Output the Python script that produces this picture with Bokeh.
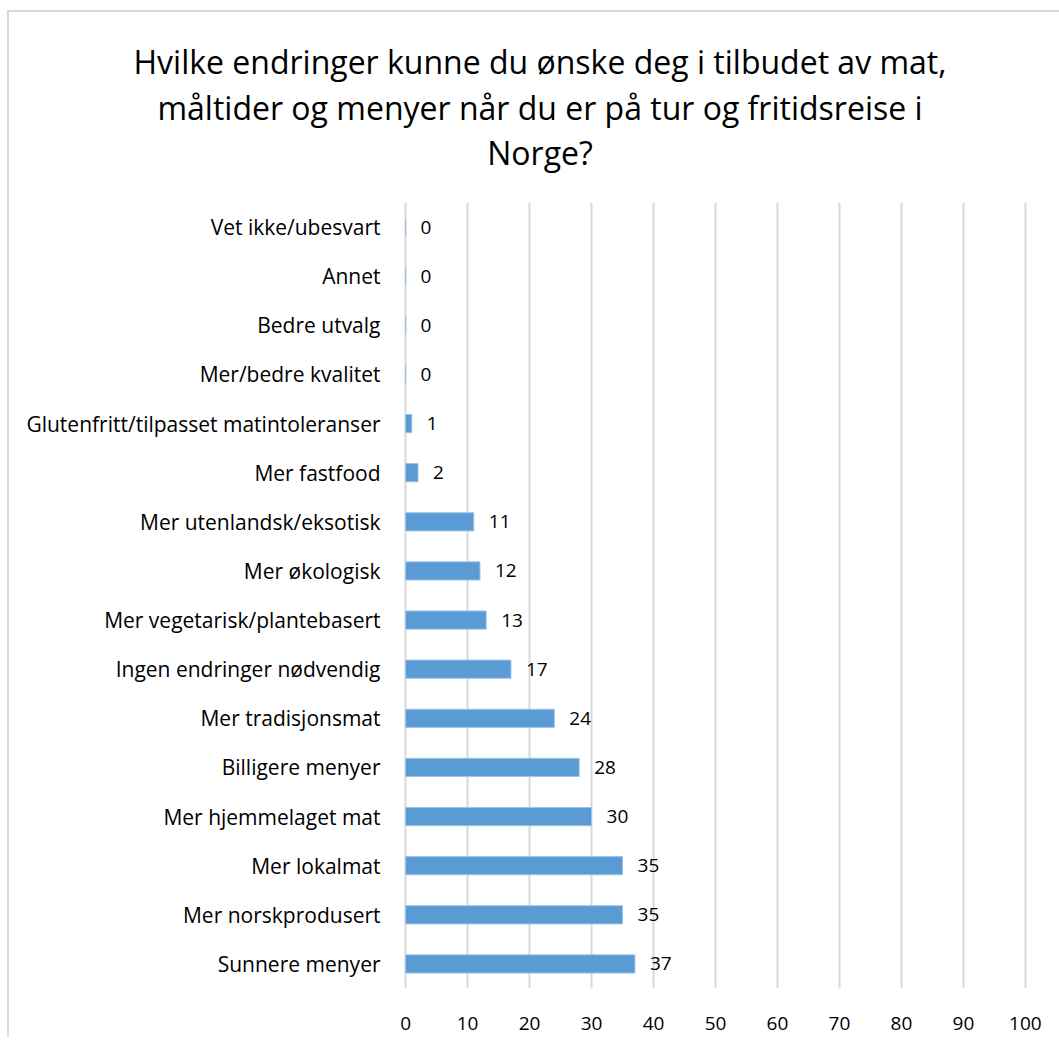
from bokeh.plotting import figure
from bokeh.models import ColumnDataSource, FactorRange, Range1d, FixedTicker, LabelSet, Div
from bokeh.layouts import column
from bokeh.core.properties import value
from bokeh.embed import file_html
from bokeh.resources import INLINE

categories = ["Sunnere menyer", "Mer norskprodusert", "Mer lokalmat", "Mer hjemmelaget mat",
              "Billigere menyer", "Mer tradisjonsmat", "Ingen endringer nødvendig",
              "Mer vegetarisk/plantebasert", "Mer økologisk", "Mer utenlandsk/eksotisk",
              "Mer fastfood", "Glutenfritt/tilpasset matintoleranser", "Mer/bedre kvalitet",
              "Bedre utvalg", "Annet", "Vet ikke/ubesvart"]
values = [37, 35, 35, 30, 28, 24, 17, 13, 12, 11, 2, 1, 0, 0, 0, 0]
x_ticks = [0, 10, 20, 30, 40, 50, 60, 70, 80, 90, 100]
title_lines = ["Hvilke endringer kunne du ønske deg i tilbudet av mat,",
               "måltider og menyer når du er på tur og fritidsreise i",
               "Norge?"]

FONT = "Open Sans"
CAT_FS = "21px"
NUM_FS = "19px"

src = ColumnDataSource(dict(cat=categories, val=values, lab=[str(v) for v in values]))

title_html = ('<div style="box-sizing:content-box; width:1038px; text-align:center; '
              'padding-left:12px; padding-top:27px; '
              'font-family:\'Open Sans\'; font-size:32px; line-height:45.5px; color:black; '
              'white-space:nowrap;">' + "<br>".join(title_lines) + '</div>')
title_div = Div(text=title_html, width=1050, height=190, margin=0)

p = figure(width=1050, height=835, output_backend="svg", toolbar_location=None,
           y_range=FactorRange(factors=categories, range_padding=0),
           x_range=Range1d(-0.5, 100.5),
           min_border_left=393, min_border_right=31, min_border_top=0, min_border_bottom=49,
           margin=0)
p.outline_line_color = None
p.background_fill_color = "white"
p.border_fill_color = "white"

p.hbar(y="cat", right="val", left=0, height=0.37, source=src,
       fill_color="#5B9BD5", line_color="#9DC3E6", line_width=1)

labels = LabelSet(x="val", y="cat", text="lab", source=src, x_offset=15,
                  text_baseline="middle", text_align="left",
                  text_font=value(FONT), text_font_size=NUM_FS, text_color="black")
p.add_layout(labels)

p.xaxis.ticker = FixedTicker(ticks=x_ticks)
p.xaxis.axis_line_color = None
p.xaxis.major_tick_line_color = None
p.xaxis.minor_tick_line_color = None
p.xaxis.major_label_text_font = FONT
p.xaxis.major_label_text_font_size = NUM_FS
p.xaxis.major_label_text_color = "black"
p.xaxis.major_label_standoff = 22

p.yaxis.axis_line_color = None
p.yaxis.major_tick_line_color = None
p.yaxis.minor_tick_line_color = None
p.yaxis.major_label_text_font = FONT
p.yaxis.major_label_text_font_size = CAT_FS
p.yaxis.major_label_text_color = "black"
p.yaxis.major_label_standoff = 16

p.xgrid.grid_line_color = "#D9D9D9"
p.xgrid.grid_line_width = 2
p.ygrid.grid_line_color = None

layout = column(title_div, p, margin=(10, 0, 0, 7), spacing=0,
                styles={"border-left": "2px solid #D9D9D9", "border-top": "2px solid #D9D9D9"})

open("out.html", "w").write(file_html(layout, INLINE))
